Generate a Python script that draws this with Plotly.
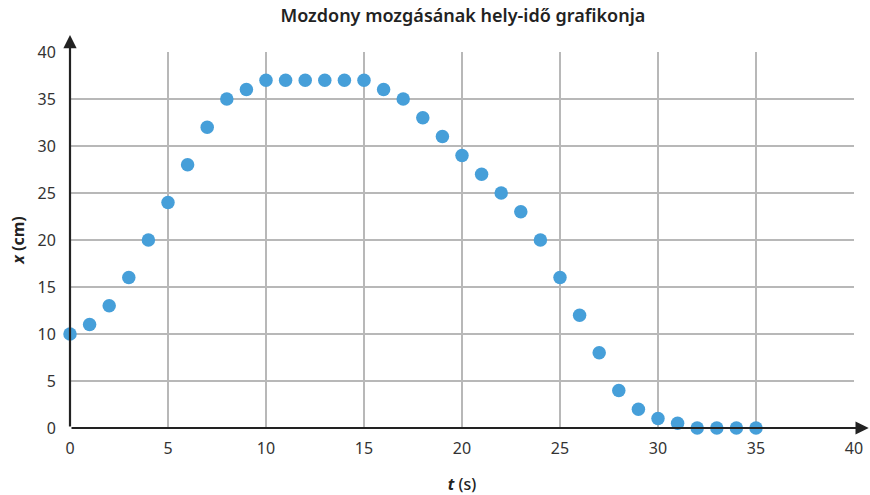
import plotly.graph_objects as go

t_values = list(range(0, 36))
x_values = [10, 11, 13, 16, 20, 24, 28, 32, 35, 36,
            37, 37, 37, 37, 37, 37, 36, 35, 33, 31,
            29, 27, 25, 23, 20, 16, 12, 8, 4, 2,
            1, 0.5, 0, 0, 0, 0]
tick_vals = [0, 5, 10, 15, 20, 25, 30, 35, 40]
title_text = "Mozdony mozgásának hely-idő grafikonja"
x_title = "<b><i>t</i></b> (s)"
y_title = "<b><i>x</i> (cm)</b>"

FONT = "Noto Sans"
fig = go.Figure()
fig.add_trace(go.Scatter(
    x=t_values, y=x_values, mode="markers",
    marker=dict(color="#469fd9", size=13.5),
    cliponaxis=False, showlegend=False, hoverinfo="skip"))

axis_common = dict(
    range=[0, 40], tickvals=tick_vals, showgrid=True,
    gridcolor="#b8b8b8", gridwidth=1.5, zeroline=False,
    showline=False, ticks="outside", tickcolor="rgba(0,0,0,0)",
    tickfont=dict(family=FONT, size=16, color="#333"), automargin=False,
)
fig.update_xaxes(**axis_common, ticklen=6,
                 title=dict(text=x_title, font=dict(family=FONT, size=16, color="#222", weight=500), standoff=23))
fig.update_yaxes(**axis_common, ticklen=10,
                 title=dict(text=y_title, font=dict(family=FONT, size=16, color="#222"), standoff=8))

# axis arrows
fig.add_annotation(x=40.75, y=0, ax=0, ay=0, xref="x", yref="y", axref="x", ayref="y",
                   showarrow=True, arrowhead=2, arrowsize=1.2, arrowwidth=2.2, arrowcolor="#222", text="")
fig.add_annotation(x=0, y=41.8, ax=0, ay=0, xref="x", yref="y", axref="x", ayref="y",
                   showarrow=True, arrowhead=2, arrowsize=1.2, arrowwidth=2.2, arrowcolor="#222", text="")

fig.update_layout(
    width=870, height=495,
    margin=dict(l=70, r=16, t=52, b=67),
    paper_bgcolor="white", plot_bgcolor="white",
    title=dict(text=title_text, x=0.532, xanchor="center", y=0.969, yanchor="middle",
               font=dict(family=FONT, size=18, color="#222", weight=600)),
)
fig.write_html("out.html", config={"displayModeBar": False},
               post_script="document.body.style.margin='0';document.body.style.overflow='hidden';")
